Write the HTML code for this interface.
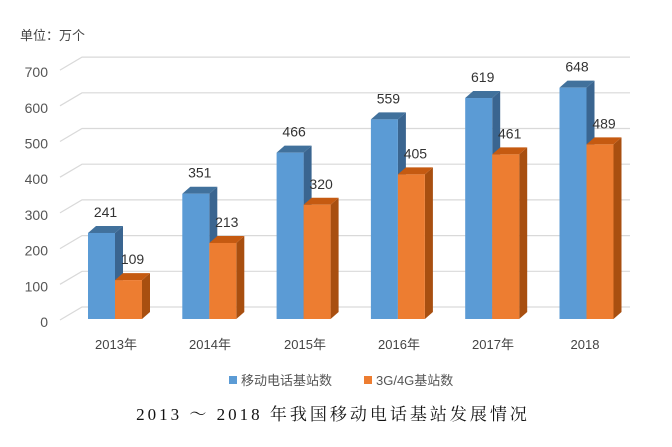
<!DOCTYPE html>
<html><head><meta charset="utf-8"><style>
body{margin:0;background:#fff}
svg text{font-family:"Liberation Sans","Noto Sans CJK SC",sans-serif}
</style></head><body>
<svg width="672" height="442" viewBox="0 0 672 442" xmlns="http://www.w3.org/2000/svg">
<text x="20" y="40" font-size="13" fill="#444">单位：万个</text>
<g stroke="#d9d9d9" stroke-width="1.2" fill="none">
<path d="M60 320 L82 307 H630"/><path d="M60 284.3 L82 271.3 H630"/><path d="M60 248.6 L82 235.6 H630"/><path d="M60 212.9 L82 199.9 H630"/><path d="M60 177.2 L82 164.2 H630"/><path d="M60 141.5 L82 128.5 H630"/><path d="M60 105.8 L82 92.8 H630"/><path d="M60 70.1 L82 57.1 H630"/>
</g>
<g font-size="14" fill="#555" text-anchor="end">
<text x="48" y="327">0</text><text x="48" y="291.3">100</text><text x="48" y="255.6">200</text><text x="48" y="219.9">300</text><text x="48" y="184.2">400</text><text x="48" y="148.5">500</text><text x="48" y="112.8">600</text><text x="48" y="77.1">700</text>
</g>
<g id="bars"></g>
<g font-size="13" fill="#444" text-anchor="middle">
<text x="116" y="349">2013年</text><text x="210" y="349">2014年</text><text x="305" y="349">2015年</text><text x="399" y="349">2016年</text><text x="493" y="349">2017年</text><text x="585" y="349">2018</text>
</g>
<rect x="229" y="376" width="8" height="8" fill="#5b9bd5"/>
<text x="241" y="385" font-size="13" fill="#555">移动电话基站数</text>
<rect x="364" y="376" width="8" height="8" fill="#ed7d31"/>
<text x="376" y="385" font-size="13" fill="#555">3G/4G基站数</text>
<text x="333" y="420" font-size="17" letter-spacing="3" fill="#111" text-anchor="middle" style="font-family:'Liberation Serif','Noto Serif CJK SC',serif">2013 ～ 2018 年我国移动电话基站发展情况</text>
</svg>
<script>
var d=[[241,109],[351,213],[466,320],[559,405],[619,461],[648,489]];
var g=document.getElementById('bars'),h='';
var s=0.357,b=319,w=27,dx=8,dy=7;
d.forEach(function(v,i){
 var x0=88+i*94.3;
 [[v[0],x0,'#5b9bd5','#41719c','#3a6590'],[v[1],x0+w,'#ed7d31','#c55a11','#a84f10']].forEach(function(p){
  var t=b-p[0]*s,x=p[1];
  h+='<polygon points="'+(x+w)+','+t+' '+(x+w+dx)+','+(t-dy)+' '+(x+w+dx)+','+(b-dy)+' '+(x+w)+','+b+'" fill="'+p[4]+'"/>';
  h+='<polygon points="'+x+','+t+' '+(x+dx)+','+(t-dy)+' '+(x+w+dx)+','+(t-dy)+' '+(x+w)+','+t+'" fill="'+p[3]+'"/>';
  h+='<rect x="'+x+'" y="'+t+'" width="'+w+'" height="'+(b-t)+'" fill="'+p[2]+'"/>';
  h+='<text x="'+(x+w/2+4)+'" y="'+(t-16)+'" font-size="14" fill="#333" text-anchor="middle">'+p[0]+'</text>';
 });
});
g.innerHTML=h;
</script>
</body></html>
